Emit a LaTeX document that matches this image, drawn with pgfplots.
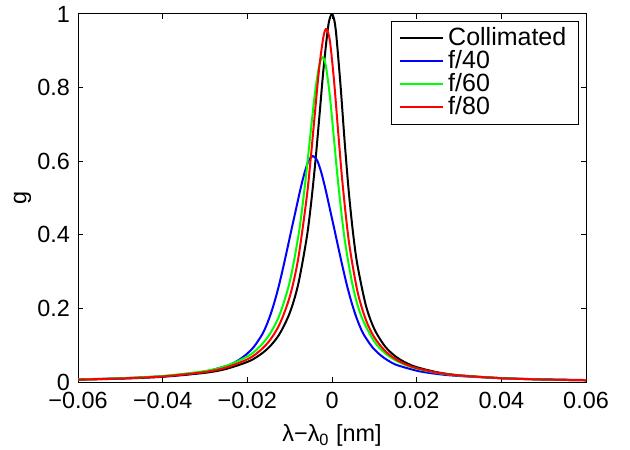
\documentclass[border=0pt]{standalone}
\usepackage{fontspec}
\setmainfont{Liberation Sans}
\usepackage{pgfplots}
\pgfplotsset{compat=1.18}

\begin{document}
\fontsize{11.7}{14}\selectfont
\begin{tikzpicture}
\useasboundingbox (-39pt,-33.5pt) rectangle (276pt,191pt);
\begin{axis}[
    at={(0,0)}, anchor=south west,
    scale only axis,
    width=254pt, height=184pt,
    xmin=-0.06, xmax=0.06, ymin=0, ymax=1,
    scaled x ticks=false, scaled y ticks=false,
    xtick={-0.06,-0.04,-0.02,0,0.02,0.04,0.06},
    xticklabels={−0.06,−0.04,−0.02,0,0.02,0.04,0.06},
    ytick={0,0.2,0.4,0.6,0.8,1},
    yticklabels={0,0.2,0.4,0.6,0.8,1},
    tick align=inside,
    major tick length=2.5pt,
    axis line style={black, line width=0.5pt},
    every tick/.style={black, line width=0.5pt},
    tick label style={font=\fontsize{11.7}{14}\selectfont},
    xticklabel style={yshift=-1pt},
    xlabel={λ−λ\textsubscript{0} [nm]},
    ylabel={g},
    ylabel shift=-5pt,
    label style={font=\fontsize{11.7}{14}\selectfont},
    legend style={at={(1,1)}, anchor=north east, xshift=-3.6pt, yshift=-3.5pt,
        draw=black, line width=0.5pt, font=\fontsize{12.5}{14}\selectfont,
        inner xsep=4pt, inner ysep=1pt, row sep=-3.3pt},
    legend cell align={left},
    legend image code/.code={\draw[#1] (0pt,0pt) -- (21.5pt,0pt);},
    every axis plot/.append style={line width=1pt, smooth},
]
\addplot[black] coordinates {(-0.06,0.0064)(-0.05,0.0091)(-0.04,0.0142)(-0.03,0.0250)(-0.025,0.0356)(-0.02,0.0545)(-0.0175,0.0700)(-0.015,0.0929)(-0.0125,0.1285)(-0.01,0.1873)(-0.008,0.2647)(-0.006,0.3902)(-0.005,0.4796)(-0.004,0.5902)(-0.003,0.7191)(-0.002,0.8521)(-0.001,0.9584)(-0.0005,0.9893)(0,1)(0.0005,0.9853)(0.001,0.9438)(0.002,0.8078)(0.003,0.6513)(0.004,0.5124)(0.005,0.4021)(0.006,0.3183)(0.008,0.2080)(0.01,0.1439)(0.0125,0.0971)(0.015,0.0695)(0.0175,0.0520)(0.02,0.0403)(0.025,0.0262)(0.03,0.0183)(0.04,0.0104)(0.05,0.0067)(0.06,0.0047)};
\addlegendentry{Collimated}
\addplot[blue] coordinates {(-0.06,0.0070)(-0.0495,0.0101)(-0.0395,0.0160)(-0.0345,0.0209)(-0.0295,0.0295)(-0.0245,0.0454)(-0.0225,0.0565)(-0.0205,0.0725)(-0.0185,0.0950)(-0.0165,0.1290)(-0.0155,0.1535)(-0.0145,0.1840)(-0.0135,0.2210)(-0.0125,0.2640)(-0.0115,0.3130)(-0.0105,0.3650)(-0.0095,0.4180)(-0.0085,0.4700)(-0.0075,0.5220)(-0.0065,0.5680)(-0.0055,0.6020)(-0.0045,0.6140)(-0.0035,0.6020)(-0.0025,0.5680)(-0.0015,0.5220)(-0.0005,0.4700)(0.0005,0.4180)(0.0015,0.3650)(0.0025,0.3130)(0.0035,0.2640)(0.0045,0.2210)(0.0055,0.1840)(0.0065,0.1535)(0.0075,0.1290)(0.0095,0.0950)(0.0115,0.0725)(0.0135,0.0565)(0.0155,0.0454)(0.0205,0.0295)(0.0255,0.0209)(0.0305,0.0160)(0.0405,0.0101)(0.0505,0.0071)(0.06,0.0053)};
\addlegendentry{f/40}
\addplot[green] coordinates {(-0.06,0.0071)(-0.05,0.0103)(-0.04,0.0164)(-0.03,0.0298)(-0.025,0.0436)(-0.02,0.0693)(-0.0175,0.0913)(-0.015,0.1249)(-0.0125,0.1792)(-0.01,0.2714)(-0.008,0.3930)(-0.007,0.4762)(-0.006,0.5750)(-0.005,0.6837)(-0.004,0.7876)(-0.003,0.8616)(-0.0022,0.882)(-0.0015,0.8620)(-0.0005,0.7760)(0.0005,0.6560)(0.0015,0.5355)(0.003,0.3872)(0.005,0.2557)(0.007,0.1764)(0.01,0.1098)(0.0125,0.0787)(0.015,0.0589)(0.0175,0.0456)(0.02,0.0363)(0.025,0.0245)(0.03,0.0176)(0.04,0.0104)(0.05,0.0068)(0.06,0.0048)};
\addlegendentry{f/60}
\addplot[red] coordinates {(-0.06,0.0066)(-0.05,0.0096)(-0.04,0.0151)(-0.03,0.0272)(-0.025,0.0393)(-0.02,0.0616)(-0.0175,0.0804)(-0.015,0.1088)(-0.0125,0.1541)(-0.01,0.2310)(-0.008,0.3341)(-0.006,0.4995)(-0.005,0.6108)(-0.004,0.7357)(-0.003,0.8560)(-0.002,0.9398)(-0.0013,0.959)(-0.0005,0.9269)(0.0005,0.8160)(0.0015,0.6735)(0.0025,0.5385)(0.004,0.3807)(0.006,0.2470)(0.008,0.1689)(0.01,0.1213)(0.0125,0.0849)(0.015,0.0624)(0.0175,0.0477)(0.02,0.0376)(0.025,0.0250)(0.03,0.0178)(0.04,0.0103)(0.05,0.0067)(0.06,0.0047)};
\addlegendentry{f/80}
\end{axis}
\end{tikzpicture}
\end{document}
